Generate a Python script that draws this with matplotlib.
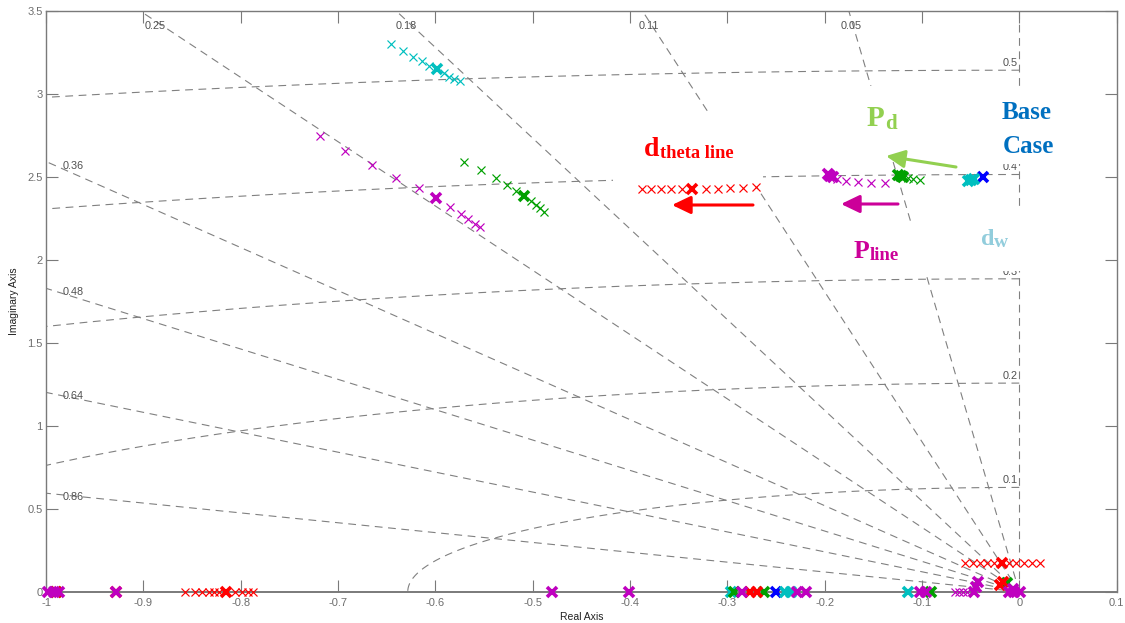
import numpy as np
import matplotlib
matplotlib.use("Agg")
import matplotlib.pyplot as plt
from matplotlib.patches import Rectangle

# ---------------- pole locations (real part, imaginary part) ----------------
# thin crosses: parameter sweeps; bold crosses: selected operating cases
blue_bold_re = [-0.0375, -0.250]
blue_bold_im = [2.500, 0.0]

cyan_thin_re = [-0.646, -0.633, -0.623, -0.614, -0.606, -0.591, -0.586, -0.581, -0.575]
cyan_thin_im = [3.300, 3.255, 3.223, 3.197, 3.169, 3.123, 3.102, 3.088, 3.076]
cyan_bold_re = [-0.598, -0.053, -0.050, -0.047, -0.296, -0.241, -0.235, -0.114]
cyan_bold_im = [3.147, 2.475, 2.482, 2.488, 0.0, 0.0, 0.0, 0.0]

green_thin_re = [-0.571, -0.553, -0.538, -0.526, -0.517, -0.502, -0.497, -0.492, -0.488,
                 -0.114, -0.109, -0.102]
green_thin_im = [2.591, 2.541, 2.491, 2.450, 2.414, 2.356, 2.330, 2.310, 2.290,
                 2.491, 2.485, 2.481]
green_bold_re = [-0.509, -0.125, -0.122, -0.119, -0.990, -0.293, -0.262, -0.091, -0.0125]
green_bold_im = [2.386, 2.512, 2.506, 2.500, 0.0, 0.0, 0.0, 0.0, 0.055]

red_thin_re = [-0.388, -0.378, -0.3685, -0.358, -0.347, -0.322, -0.310, -0.297, -0.284, -0.270,
               -0.0557, -0.0480, -0.0403, -0.0331, -0.0259, -0.0105, -0.0034, 0.0048, 0.0130, 0.0212,
               -0.857, -0.847, -0.840, -0.833, -0.827, -0.822, -0.806, -0.799, -0.792, -0.787]
red_thin_im = [2.424, 2.424, 2.424, 2.425, 2.425, 2.427, 2.428, 2.430, 2.432, 2.436,
               0.174, 0.174, 0.174, 0.174, 0.174, 0.174, 0.174, 0.174, 0.174, 0.174,
               0.0, 0.0, 0.0, 0.0, 0.0, 0.0, 0.0, 0.0, 0.0, 0.0]
red_bold_re = [-0.336, -0.0177, -0.815, -0.990, -0.928, -0.277, -0.269, -0.020, -0.017]
red_bold_im = [2.428, 0.174, 0.0, 0.0, 0.0, 0.0, 0.0, 0.040, 0.060]

magenta_thin_re = [-0.718, -0.693, -0.665, -0.640, -0.617, -0.585, -0.574, -0.566, -0.559, -0.554,
                   -0.187, -0.178, -0.166, -0.152, -0.138,
                   -0.066, -0.062, -0.058, -0.054]
magenta_thin_im = [2.745, 2.657, 2.571, 2.491, 2.430, 2.316, 2.276, 2.244, 2.216, 2.196,
                   2.486, 2.476, 2.468, 2.464, 2.464,
                   0.0, 0.0, 0.0, 0.0]
magenta_bold_re = [-0.599, -0.197, -0.194, -0.191,
                   -0.998, -0.992, -0.987, -0.928, -0.4806, -0.4013, -0.2847, -0.228, -0.219,
                   -0.102, -0.096, -0.047, -0.044, -0.042, -0.011, -0.005, 0.001, -0.006]
magenta_bold_im = [2.370, 2.515, 2.507, 2.500,
                   0.0, 0.0, 0.0, 0.0, 0.0, 0.0, 0.0, 0.0, 0.0,
                   0.0, 0.0, 0.0, 0.030, 0.060, 0.0, 0.0, 0.0, 0.015]

# s-plane grid: damping ratios and natural frequencies (Hz)
zeta_values = [0.86, 0.64, 0.48, 0.36, 0.25, 0.18, 0.11, 0.05]
wn_hz_values = [0.1, 0.2, 0.3, 0.4, 0.5]

x_ticks = [-1, -0.9, -0.8, -0.7, -0.6, -0.5, -0.4, -0.3, -0.2, -0.1, 0, 0.1]
x_tick_labels = ["-1", "-0.9", "-0.8", "-0.7", "-0.6", "-0.5", "-0.4", "-0.3", "-0.2", "-0.1", "0", "0.1"]
y_ticks = [0, 0.5, 1, 1.5, 2, 2.5, 3, 3.5]
y_tick_labels = ["0", "0.5", "1", "1.5", "2", "2.5", "3", "3.5"]

# ---------------- figure ----------------
W, H, DPI = 1125, 623, 100
plt.rcParams["font.family"] = ["Liberation Sans", "DejaVu Sans"]
fig = plt.figure(figsize=(W / DPI, H / DPI), dpi=DPI)
fig.patch.set_facecolor("white")

AX_L, AX_R, AX_T, AX_B = 46.0, 1116.6, 10.7, 591.7
ax = fig.add_axes([AX_L / W, 1 - AX_B / H, (AX_R - AX_L) / W, (AX_B - AX_T) / H])
ax.set_xlim(-1, 0.1)
ax.set_ylim(0, 3.5)

px_x = (AX_R - AX_L) / 1.1      # pixels per unit, real axis
px_y = (AX_B - AX_T) / 3.5      # pixels per unit, imaginary axis


def fig_pt(px, py):
    """Pixel position (origin top-left) to figure fraction."""
    return px / W, 1 - py / H


# ---------------- grid ----------------
grid_color = "#808080"
grid_kw = dict(color=grid_color, lw=0.8, ls=(0, (7, 5)), zorder=1)
for z in zeta_values:
    c = np.sqrt(1 - z ** 2)
    ax.plot([0, -10 * z], [0, 10 * c], **grid_kw)
ax.plot([0, 0], [0, 3.5], **grid_kw)
theta = np.linspace(np.pi / 2, np.pi, 400)
for f in wn_hz_values:
    wn = 2 * np.pi * f
    ax.plot(wn * np.cos(theta), wn * np.sin(theta), **grid_kw)

glabel_kw = dict(fontsize=7.8, color="#505050", zorder=1.5)
y_top = 3.5 - 10 / px_y
for z in zeta_values:
    slope = np.sqrt(1 - z ** 2) / z
    if 1.0 * slope > 3.5:
        ax.text(-y_top / slope, y_top, f"{z:g}", ha="center", va="top", **glabel_kw)
    else:
        ax.text(-1 + 17 / px_x, slope * 1.0 - 4 / px_y, f"{z:g}", ha="left", va="center", **glabel_kw)
for f in wn_hz_values:
    wn = 2 * np.pi * f
    ax.text(-1.5 / px_x, wn + 4 / px_y, f"{f:g}", ha="right", va="baseline", **glabel_kw)

# ---------------- white backgrounds of the annotation boxes ----------------
for (l, t, r, b) in [(613, 115, 763, 187), (855, 86, 915, 162), (990, 88, 1065, 164),
                     (840, 223, 935, 275), (965, 210, 1040, 271)]:
    x0, y0 = fig_pt(l, b)
    x1, y1 = fig_pt(r, t)
    ax.add_patch(Rectangle((x0, y0), x1 - x0, y1 - y0, transform=fig.transFigure,
                           facecolor="white", edgecolor="none", zorder=2, clip_on=False))

# ---------------- poles ----------------
thin_kw = dict(ls="none", marker="x", ms=5.3, mew=0.85, zorder=4, clip_on=False)
bold_kw = dict(ls="none", marker="x", ms=6.5, mew=2.6, zorder=4.5, clip_on=False)

ax.plot(blue_bold_re, blue_bold_im, color="#0000FF", **bold_kw)
ax.plot(cyan_thin_re, cyan_thin_im, color="#00BFBF", **thin_kw)
ax.plot(cyan_bold_re, cyan_bold_im, color="#00BFBF", **bold_kw)
ax.plot(green_thin_re, green_thin_im, color="#00A000", **thin_kw)
ax.plot(green_bold_re, green_bold_im, color="#00A000", **bold_kw)
ax.plot(red_thin_re, red_thin_im, color="#FF0000", **thin_kw)
ax.plot(red_bold_re, red_bold_im, color="#FF0000", **bold_kw)
ax.plot(magenta_thin_re, magenta_thin_im, color="#BF00BF", **thin_kw)
ax.plot(magenta_bold_re, magenta_bold_im, color="#BF00BF", **bold_kw)

# ---------------- arrows and annotation text ----------------
def arrow(tail, tip, color):
    ax.annotate("", xy=fig_pt(*tip), xytext=fig_pt(*tail),
                xycoords=fig.transFigure, textcoords=fig.transFigure,
                arrowprops=dict(arrowstyle="-|>,head_length=0.75,head_width=0.36",
                                mutation_scale=15, lw=2.2, color=color,
                                shrinkA=0, shrinkB=0),
                zorder=5, annotation_clip=False)


renderer = fig.canvas.get_renderer()
txt_kw = dict(transform=fig.transFigure, fontweight="bold", family="Liberation Serif",
              ha="left", va="baseline", zorder=6, clip_on=False)


def label(px, py, s, size, color):
    return ax.text(*fig_pt(px, py), s, fontsize=size, color=color, **txt_kw)


def subscripted(px, py, main, sub, size, sub_size, color, drop=2.0, gap=0.5):
    """Main letters followed by a lowered, smaller subscript."""
    t = label(px, py, main, size, color)
    x1 = t.get_window_extent(renderer=renderer).x1
    label(x1 + gap, py + drop, sub, sub_size, color)


red_c, mag_c, green_c, blue_c, aqua_c = "#FF0000", "#CC0099", "#92D050", "#0070C0", "#92CDDC"

arrow((753, 205), (672, 205), red_c)
arrow((898, 204), (841, 204), mag_c)
arrow((956, 167), (886, 156), green_c)

subscripted(644, 156, "d", "theta line", 20, 13.3, red_c, drop=2.5, gap=1.0)
subscripted(867, 126, "P", "d", 21, 15, green_c, drop=3.0, gap=0.0)
label(1002, 119, "Base", 18, blue_c)
label(1003, 153, "Case", 18, blue_c)
subscripted(854, 258, "P", "line", 18.5, 13.5, mag_c, drop=2.0, gap=0.0)
subscripted(981, 245, "d", "w", 17.5, 14, aqua_c, drop=2.0, gap=-0.5)

# ---------------- axes styling ----------------
frame_c = "#7a7a7a"
for side in ["left", "right", "top", "bottom"]:
    ax.spines[side].set_color(frame_c)
    ax.spines[side].set_linewidth(1.0)
    ax.spines[side].set_zorder(3)
ax.spines["bottom"].set_linewidth(1.4)

ax.set_xticks(x_ticks)
ax.set_xticklabels(x_tick_labels)
ax.set_yticks(y_ticks)
ax.set_yticklabels(y_tick_labels)
ax.tick_params(axis="both", which="both", direction="in", length=8.4, width=0.8,
               color=frame_c, labelcolor="#6e6e6e", labelsize=8,
               top=True, right=True)
ax.tick_params(axis="x", pad=4.5)
ax.tick_params(axis="y", pad=2.4)

ax.set_xlabel("Real Axis", fontsize=7.5, color="#202020", labelpad=3)
ax.set_ylabel("Imaginary Axis", fontsize=7.5, color="#202020", labelpad=6)

fig.savefig("out.png", dpi=DPI, facecolor="white")
